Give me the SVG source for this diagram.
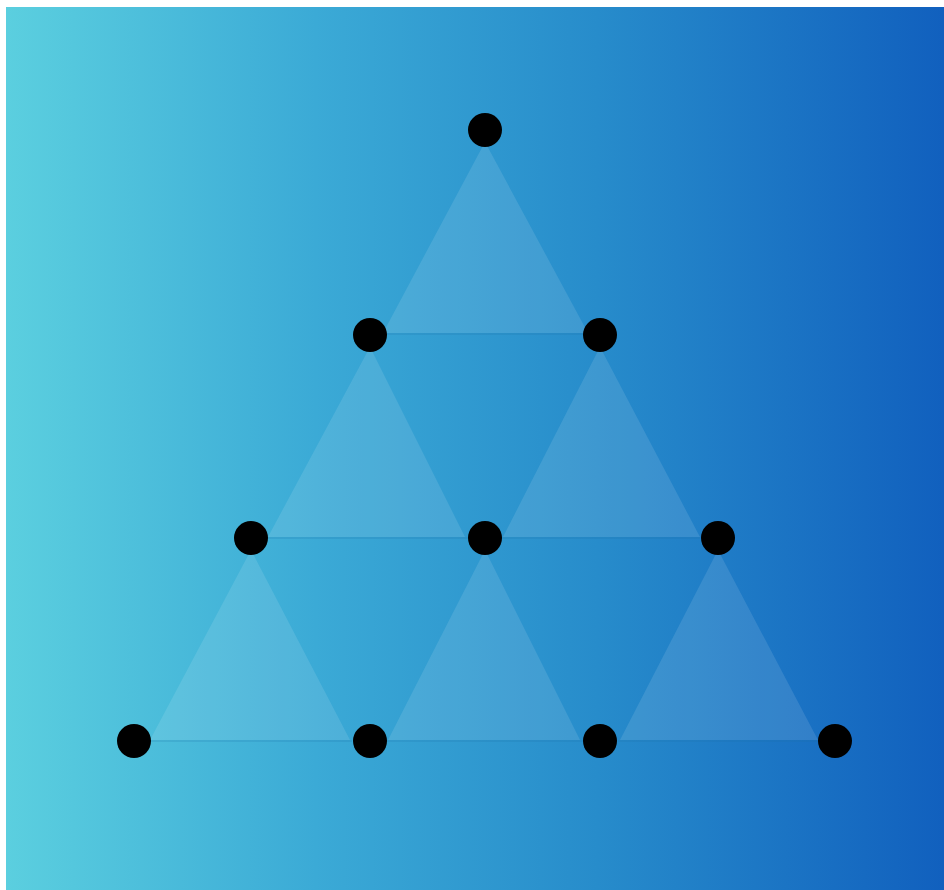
<svg xmlns="http://www.w3.org/2000/svg" width="944" height="890" viewBox="0 0 944 890">
<style>
.tri{fill:#ffffff;fill-opacity:0.11}
.base{stroke:#1a6fa8;stroke-opacity:0.18;stroke-width:2}
.node{fill:#000000}
</style>
<defs>
<linearGradient id="bg" x1="0" y1="0" x2="1" y2="0">
<stop offset="0" stop-color="#5BCFDF"/>
<stop offset="0.33" stop-color="#3BAAD6"/>
<stop offset="0.63" stop-color="#278CCB"/>
<stop offset="1" stop-color="#1160BE"/>
</linearGradient>
</defs>
<rect x="0" y="0" width="944" height="890" fill="#ffffff"/>
<rect x="6" y="7" width="938" height="883" fill="url(#bg)"/>
<g id="triangles">
<polygon class="tri" points="485,142 383,333 588,333"/>
<polygon class="tri" points="370,347 268,537 465,537"/>
<polygon class="tri" points="600,347 503,537 700,537"/>
<polygon class="tri" points="251,550 150,740 350,740"/>
<polygon class="tri" points="485,550 388,740 580,740"/>
<polygon class="tri" points="718,550 620,740 818,740"/>
</g>
<g id="connectors">
<line class="base" x1="386" y1="334" x2="585" y2="334"/>
<line class="base" x1="268" y1="538" x2="468" y2="538"/>
<line class="base" x1="502" y1="538" x2="700" y2="538"/>
<line class="base" x1="150" y1="741" x2="352" y2="741"/>
<line class="base" x1="386" y1="741" x2="583" y2="741"/>
<line class="base" x1="618" y1="741" x2="818" y2="741"/>
</g>
<g id="n1"><circle class="node" cx="485" cy="130" r="17"/></g>
<g id="n2"><circle class="node" cx="370" cy="335" r="17"/></g>
<g id="n3"><circle class="node" cx="600" cy="335" r="17"/></g>
<g id="n4"><circle class="node" cx="251" cy="538" r="17"/></g>
<g id="n5"><circle class="node" cx="485" cy="538" r="17"/></g>
<g id="n6"><circle class="node" cx="718" cy="538" r="17"/></g>
<g id="n7"><circle class="node" cx="134" cy="741" r="17"/></g>
<g id="n8"><circle class="node" cx="370" cy="741" r="17"/></g>
<g id="n9"><circle class="node" cx="600" cy="741" r="17"/></g>
<g id="n10"><circle class="node" cx="835" cy="741" r="17"/></g>
</svg>
